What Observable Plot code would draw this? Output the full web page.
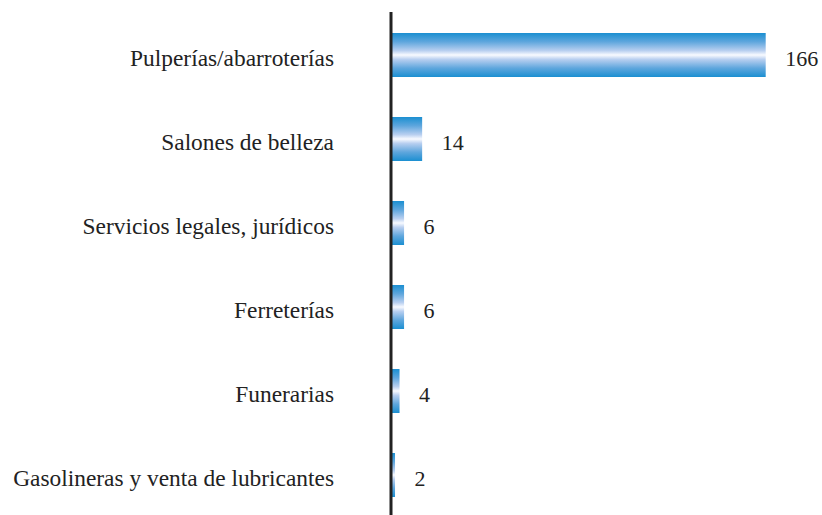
<!DOCTYPE html>
<html><head><meta charset="utf-8">
<script src="https://cdn.jsdelivr.net/npm/d3@7"></script>
<script src="https://cdn.jsdelivr.net/npm/@observablehq/plot@0.6"></script>
<style>body{margin:0;background:#fff}</style>
</head><body><div id="chart"></div>
<script>
const categories = [
  "Pulperías/abarroterías",
  "Salones de belleza",
  "Servicios legales, jurídicos",
  "Ferreterías",
  "Funerarias",
  "Gasolineras y venta de lubricantes"
];
const values = [166, 14, 6, 6, 4, 2];
const data = categories.map((c, i) => ({category: c, value: values[i]}));

const plot = Plot.plot({
  width: 822, height: 515,
  marginLeft: 390.5, marginRight: 56.3, marginTop: 12, marginBottom: 0,
  style: {fontFamily: "'Liberation Serif', 'Times New Roman', serif", fontSize: "22px", color: "#222", background: "#fff"},
  x: {domain: [0, 166], axis: null},
  y: {domain: categories, paddingInner: 0.474, paddingOuter: 0.21, align: 0.55, label: null, axis: null},
  marks: [
    Plot.barX(data, {x: "value", y: "category", fill: "url(#barGrad)"}),
    Plot.text(data, {x: "value", y: "category", text: d => String(d.value), textAnchor: "start", dx: 19, dy: 3.5, fontSize: 22, fill: "#222", fontFamily: "Liberation Serif"}),
    Plot.axisY({tickSize: 0, tickPadding: 57, fontSize: 23.4, dy: 2.5, label: null, fill: "#222", fontFamily: "Liberation Serif"}),
    Plot.ruleX([0], {stroke: "#222", strokeWidth: 3})
  ]
});

const defs = d3.select(plot).insert("defs", ":first-child");
const g = defs.append("linearGradient").attr("id", "barGrad")
  .attr("x1", 0).attr("y1", 0).attr("x2", 0).attr("y2", 1);
[[0, "#1b8fd1"], [0.2, "#5ea6dd"], [0.4, "#b8cff0"], [0.5, "#f8faff"], [0.6, "#b8cff0"], [0.8, "#5ea6dd"], [1, "#1b8fd1"]]
  .forEach(([o, c]) => g.append("stop").attr("offset", o).attr("stop-color", c));

document.getElementById("chart").appendChild(plot);
</script>
</body></html>
